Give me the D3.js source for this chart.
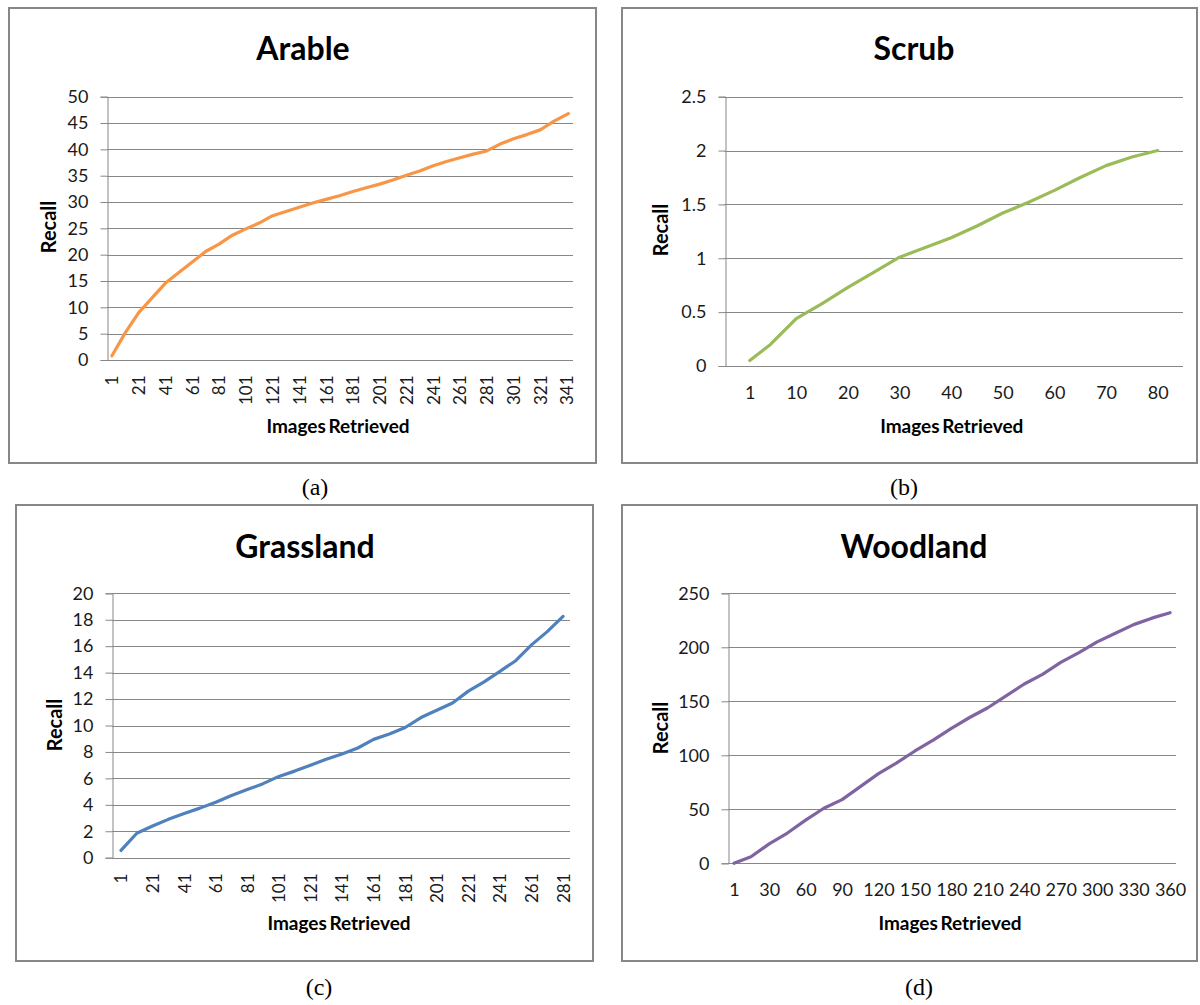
<!DOCTYPE html>
<html>
<head>
<meta charset="utf-8">
<script src="https://cdn.jsdelivr.net/npm/d3@7"></script>
<style>
  body { margin: 0; background: #fff; }
  svg { display: block; }
  .tick text { font-family: Lato, "Open Sans", sans-serif; fill: #1a1a1a; }
</style>
</head>
<body>
<svg id="chart" width="1200" height="1005"></svg>
<script>
// values (images retrieved -> recall)
var arableX = [1, 11, 21, 31, 41, 51, 61, 71, 81, 91, 101, 111, 121, 131, 141, 151, 161, 171,
               181, 191, 201, 211, 221, 231, 241, 251, 261, 271, 281, 291, 301, 311, 321, 331, 342];
var arableY = [0.8, 5.2, 9.0, 11.8, 14.6, 16.6, 18.6, 20.6, 22.0, 23.7, 24.9, 26.0, 27.4, 28.2, 29.0, 29.8, 30.5, 31.2,
               32.0, 32.7, 33.4, 34.2, 35.1, 35.9, 36.9, 37.7, 38.4, 39.1, 39.7, 41.0, 42.0, 42.8, 43.7, 45.3, 46.8];

var scrubX = [1, 5, 10, 15, 20, 25, 30, 35, 40, 45, 50, 55, 60, 65, 70, 75, 80];
var scrubY = [0.05, 0.2, 0.44, 0.58, 0.73, 0.87, 1.01, 1.1, 1.19, 1.3, 1.42, 1.52, 1.63, 1.75, 1.86, 1.94, 2.0];

var grassX = [1, 11, 21, 31, 41, 51, 61, 71, 81, 91, 101, 111, 121, 131, 141, 151, 161, 171,
              181, 191, 201, 211, 221, 231, 241, 251, 261, 271, 281];
var grassY = [0.55, 1.85, 2.4, 2.9, 3.35, 3.75, 4.2, 4.7, 5.15, 5.6, 6.15, 6.55, 7.0, 7.45, 7.85, 8.3, 8.95, 9.35,
              9.85, 10.6, 11.15, 11.7, 12.6, 13.3, 14.1, 14.9, 16.1, 17.1, 18.25];

var woodX = [1, 15, 30, 45, 60, 75, 90, 105, 120, 135, 150, 165, 180, 195, 210, 225, 240, 255,
             270, 285, 300, 315, 330, 345, 360];
var woodY = [0, 6, 18, 28, 40, 51, 59, 71, 83, 93, 104, 114, 125, 135, 144, 155, 166, 175,
             186, 195, 205, 213, 221, 227, 232];

// tick labels
var arableTicks = d3.range(1, 342, 20);
var scrubTicks = [1, 10, 20, 30, 40, 50, 60, 70, 80];
var grassTicks = d3.range(1, 282, 20);
var woodTicks = [1, 30, 60, 90, 120, 150, 180, 210, 240, 270, 300, 330, 360];

var arableYTicks = d3.range(0, 51, 5);
var scrubYTicks = [0, 0.5, 1, 1.5, 2, 2.5];
var grassYTicks = d3.range(0, 21, 2);
var woodYTicks = [0, 50, 100, 150, 200, 250];

var sans = "Lato, 'Open Sans', sans-serif",
    gridColor = "#878787";

var panels = [
  {title: "Arable", xs: arableX, ys: arableY, xTicks: arableTicks, yTicks: arableYTicks,
   color: "#f79646", rotate: true, caption: "(a)",
   box: [9, 8, 596, 463], titleX: 303, titleY: 60,
   left: 107, right: 573, top: 96.7, bottom: 360, xDomain: [-2.7, 345.5], yMax: 50,
   xTitleY: 433, recallX: 49, recallY: 227, capX: 315, capY: 487},
  {title: "Scrub", xs: scrubX, ys: scrubY, xTicks: scrubTicks, yTicks: scrubYTicks,
   color: "#9bbb59", rotate: false, caption: "(b)",
   box: [622, 8, 1197, 463], titleX: 914, titleY: 60,
   left: 724.5, right: 1183, top: 96.7, bottom: 366, xDomain: [-3.9, 84.9], yMax: 2.5,
   xTitleY: 433, recallX: 661, recallY: 230, capX: 904, capY: 487},
  {title: "Grassland", xs: grassX, ys: grassY, xTicks: grassTicks, yTicks: grassYTicks,
   color: "#4f81bd", rotate: true, caption: "(c)",
   box: [16, 505, 593, 961], titleX: 305, titleY: 558,
   left: 112, right: 570, top: 593.3, bottom: 857.7, xDomain: [-4.7, 285.4], yMax: 20,
   xTitleY: 930, recallX: 55, recallY: 725, capX: 319, capY: 987},
  {title: "Woodland", xs: woodX, ys: woodY, xTicks: woodTicks, yTicks: woodYTicks,
   color: "#8064a2", rotate: false, caption: "(d)",
   box: [622, 505, 1197, 961], titleX: 914, titleY: 558,
   left: 728, right: 1176, top: 593.3, bottom: 863.3, xDomain: [-3.9, 364.9], yMax: 250,
   xTitleY: 930, recallX: 661, recallY: 728, capX: 919, capY: 987}
];

var svg = d3.select("#chart");

function drawPanel(p) {
  var g = svg.append("g");

  g.append("rect")
    .attr("x", p.box[0]).attr("y", p.box[1])
    .attr("width", p.box[2] - p.box[0]).attr("height", p.box[3] - p.box[1])
    .attr("fill", "none").attr("stroke", gridColor).attr("stroke-width", 2);

  var x = d3.scaleLinear().domain(p.xDomain).range([p.left, p.right]);
  var y = d3.scaleLinear().domain([0, p.yMax]).range([p.bottom, p.top]);

  // gridlines
  g.selectAll(".grid").data(p.yTicks).enter().append("line")
    .attr("x1", p.left).attr("x2", p.right)
    .attr("y1", function(d) { return Math.round(y(d)) + 0.5; })
    .attr("y2", function(d) { return Math.round(y(d)) + 0.5; })
    .attr("stroke", gridColor).attr("stroke-width", 1);

  // y axis
  var ya = g.append("g")
    .attr("transform", "translate(" + (Math.round(p.left) + 0.5) + ",0)")
    .call(d3.axisLeft(y).tickValues(p.yTicks).tickSize(7).tickPadding(12)
      .tickFormat(function(d) { return d; }));
  ya.select(".domain").attr("stroke", gridColor);
  ya.selectAll(".tick line").attr("stroke", gridColor);
  ya.selectAll(".tick text").attr("font-size", 18).attr("font-family", sans);

  // x axis
  var xa = g.append("g")
    .attr("transform", "translate(0," + (Math.round(p.bottom) + 0.5) + ")")
    .call(d3.axisBottom(x).tickValues(p.xTicks).tickSize(0).tickPadding(0));
  xa.select(".domain").remove();
  xa.selectAll(".tick text").attr("font-family", sans);
  if (p.rotate) {
    xa.selectAll(".tick text")
      .attr("font-size", 17)
      .attr("transform", "rotate(-90)")
      .attr("text-anchor", "end")
      .attr("x", -15).attr("y", 0).attr("dy", "0.35em");
  } else {
    xa.selectAll(".tick text").attr("font-size", 18).attr("y", 20).attr("dy", "0.71em");
  }

  // the line
  var pts = p.xs.map(function(d, i) { return [d, p.ys[i]]; });
  g.append("path")
    .datum(pts)
    .attr("fill", "none")
    .attr("stroke", p.color)
    .attr("stroke-width", 3.2)
    .attr("stroke-linejoin", "round")
    .attr("stroke-linecap", "round")
    .attr("d", d3.line()
      .x(function(d) { return x(d[0]); })
      .y(function(d) { return y(d[1]); }));

  g.append("text")
    .attr("x", p.titleX).attr("y", p.titleY)
    .attr("text-anchor", "middle")
    .attr("font-family", sans).attr("font-weight", "bold").attr("font-size", 32)
    .text(p.title);

  g.append("text")
    .attr("x", (p.left + p.right) / 2 - 2).attr("y", p.xTitleY)
    .attr("text-anchor", "middle")
    .attr("font-family", sans).attr("font-weight", "bold").attr("font-size", 19)
    .attr("word-spacing", -2)
    .text("Images Retrieved");

  g.append("text")
    .attr("transform", "translate(" + p.recallX + "," + p.recallY + ") rotate(-90)")
    .attr("text-anchor", "middle").attr("dy", "0.35em")
    .attr("font-family", sans).attr("font-weight", "bold").attr("font-size", 20)
    .text("Recall");

  svg.append("text")
    .attr("x", p.capX).attr("y", p.capY).attr("dy", "0.35em")
    .attr("text-anchor", "middle")
    .attr("font-family", "'Liberation Serif', 'Times New Roman', serif").attr("font-size", 24)
    .text(p.caption);
}

panels.forEach(drawPanel);
</script>
</body>
</html>
